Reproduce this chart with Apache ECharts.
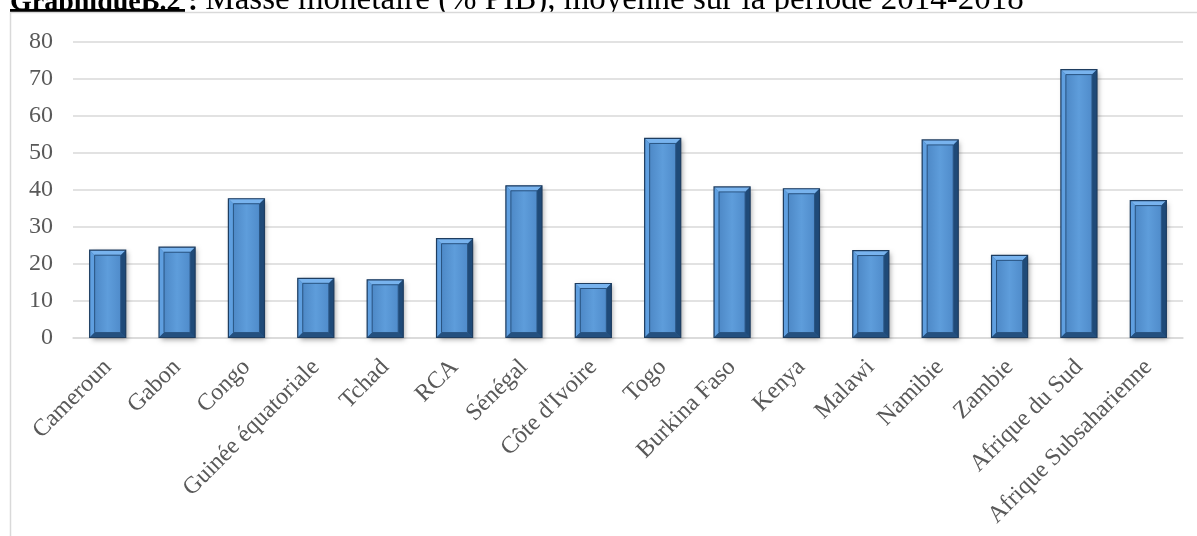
<!DOCTYPE html>
<html>
<head>
<meta charset="utf-8">
<script src="https://cdn.jsdelivr.net/npm/echarts@6/dist/echarts.min.js"></script>
<style>
html,body{margin:0;padding:0;background:#fff;}
#chart{width:1197px;height:536px;}
</style>
</head>
<body>
<div id="chart"></div>
<script>
const categories = ["Cameroun","Gabon","Congo","Guinée équatoriale","Tchad","RCA","Sénégal","Côte d'Ivoire","Togo","Burkina Faso","Kenya","Malawi","Namibie","Zambie","Afrique du Sud","Afrique Subsaharienne"];
const values = [23.6, 24.4, 37.5, 16.0, 15.6, 26.7, 41.0, 14.6, 53.8, 40.7, 40.2, 23.5, 53.4, 22.2, 72.4, 37.0];
const yTicks = {min: 0, max: 80, interval: 10};
const titleBold = "GraphiqueB.2";
const titleColon = " : ";
const titleRest = "Masse monétaire (% PIB), moyenne sur la période 2014-2018";

const chart = echarts.init(document.getElementById('chart'));
const serif = "'Liberation Serif', 'DejaVu Serif', serif";

function renderBevelBar(params, api) {
  const idx = api.value(0);
  const val = api.value(1);
  const base = api.coord([idx, 0]);
  const top = api.coord([idx, val]);
  const w = api.size([1, 0])[0] * 0.52;
  const x0 = base[0] - w / 2, x1 = base[0] + w / 2;
  const y0 = top[1], y1 = base[1];
  const d = 5;
  const face = new echarts.graphic.LinearGradient(0, 0, 1, 0, [
    {offset: 0, color: '#4d88c6'},
    {offset: 0.5, color: '#5e9ddb'},
    {offset: 1, color: '#4f8bca'}
  ]);
  return {
    type: 'group',
    children: [
      {type: 'rect', shape: {x: x0, y: y0, width: w, height: y1 - y0},
        style: {fill: '#2c5e92', shadowColor: 'rgba(0,0,0,0.35)', shadowBlur: 5, shadowOffsetX: 2, shadowOffsetY: 2}},
      {type: 'polygon', shape: {points: [[x0, y0], [x0 + d, y0 + d], [x0 + d, y1 - d], [x0, y1]]}, style: {fill: '#5f9fe0'}},
      {type: 'polygon', shape: {points: [[x0, y0], [x1, y0], [x1 - d, y0 + d], [x0 + d, y0 + d]]}, style: {fill: '#78b3ee'}},
      {type: 'polygon', shape: {points: [[x1, y0], [x1, y1], [x1 - d, y1 - d], [x1 - d, y0 + d]]}, style: {fill: '#1f4a78'}},
      {type: 'polygon', shape: {points: [[x0, y1], [x1, y1], [x1 - d, y1 - d], [x0 + d, y1 - d]]}, style: {fill: '#24507f'}},
      {type: 'rect', shape: {x: x0 + d, y: y0 + d, width: w - 2 * d, height: Math.max(0, y1 - y0 - 2 * d)},
        style: {fill: face, stroke: '#2a5583', lineWidth: 1}},
      {type: 'rect', shape: {x: x0, y: y0, width: w, height: y1 - y0},
        style: {fill: 'none', stroke: '#1e3d60', lineWidth: 1.2}}
    ]
  };
}

chart.setOption({
  animation: false,
  backgroundColor: '#fff',
  graphic: [
    {type: 'text', z: -20, left: 10, top: -16, style: {
      text: '{b|' + titleBold + '}{c|' + titleColon + '}{r|' + titleRest + '}',
      rich: {
        b: {fontFamily: serif, fontSize: 28, fontWeight: 'bold', fill: '#000', verticalAlign: 'bottom'},
        c: {fontFamily: serif, fontSize: 30, fontWeight: 'bold', fill: '#000', verticalAlign: 'bottom'},
        r: {fontFamily: serif, fontSize: 33, fill: '#000', verticalAlign: 'bottom'}
      }
    }},
    {type: 'rect', z: -19, shape: {x: 10, y: 9, width: 175, height: 3}, style: {fill: '#000'}},
    {type: 'rect', z: -10, shape: {x: 10.5, y: 12.5, width: 1300, height: 700}, style: {fill: '#fff', stroke: '#d9d9d9', lineWidth: 1.5}}
  ],
  grid: {left: 73, right: 14, top: 41.5, bottom: 198.5},
  xAxis: {
    type: 'category',
    data: categories,
    axisTick: {show: false},
    axisLine: {lineStyle: {color: '#d9d9d9', width: 1.5}},
    axisLabel: {interval: 0, rotate: 45, margin: 26, color: '#595959', fontFamily: serif, fontSize: 24}
  },
  yAxis: {
    type: 'value',
    min: yTicks.min, max: yTicks.max, interval: yTicks.interval,
    axisLine: {show: false},
    axisTick: {show: false},
    axisLabel: {margin: 20, color: '#595959', fontFamily: serif, fontSize: 24},
    splitLine: {lineStyle: {color: '#d9d9d9', width: 1.5}}
  },
  series: [{
    type: 'custom',
    renderItem: renderBevelBar,
    encode: {x: 0, y: 1},
    data: values.map((v, i) => [i, v])
  }]
});
</script>
</body>
</html>
